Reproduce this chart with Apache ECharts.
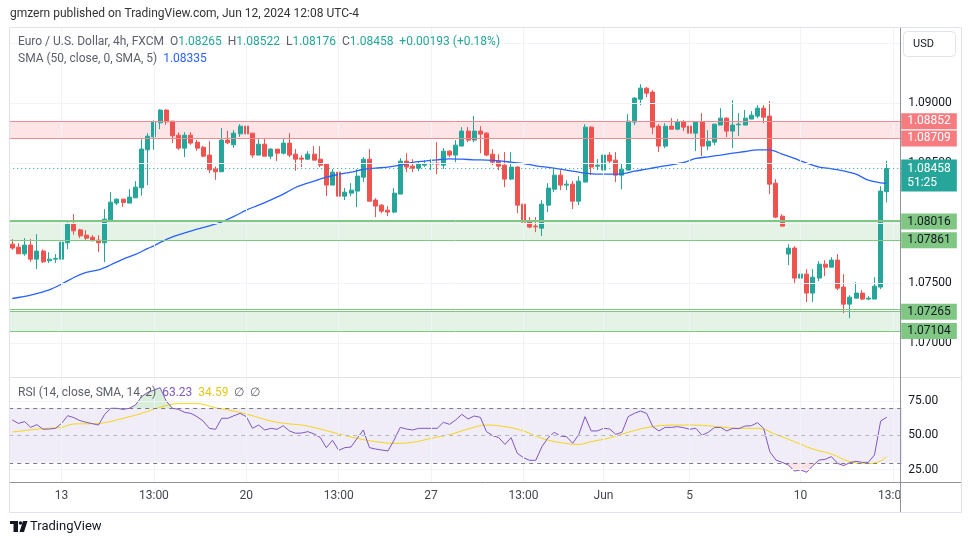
<!DOCTYPE html>
<html><head><meta charset="utf-8">
<script src="https://cdn.jsdelivr.net/npm/echarts@6/dist/echarts.min.js"></script>
<style>html,body{margin:0;padding:0;background:#fff}#c{width:970px;height:545px}</style>
</head><body><div id="c"></div>
<script>
// ---- data (EUR/USD 4h, FXCM) ----
const opens = [
1.07828,1.07803,1.07747,1.07820,1.07703,1.07770,1.07689,1.07703,1.07703,1.07839,
1.07995,1.07947,1.07903,1.07886,1.07861,1.07839,1.08031,1.08170,1.08203,1.08170,
1.08214,1.08297,1.08614,1.08722,1.08839,1.08945,1.08853,1.08736,1.08628,1.08736,
1.08678,1.08636,1.08570,1.08453,1.08431,1.08695,1.08656,1.08747,1.08811,1.08753,
1.08570,1.08661,1.08561,1.08620,1.08586,1.08670,1.08578,1.08545,1.08536,1.08578,
1.08536,1.08495,1.08320,1.08428,1.08228,1.08253,1.08270,1.08386,1.08536,1.08195,
1.08153,1.08111,1.08095,1.08245,1.08520,1.08478,1.08461,1.08486,1.08495,1.08503,
1.08486,1.08603,1.08570,1.08645,1.08770,1.08695,1.08770,1.08753,1.08578,1.08520,
1.08486,1.08370,1.08470,1.08161,1.08020,1.07978,1.07961,1.08153,1.08286,1.08403,
1.08320,1.08328,1.08186,1.08345,1.08803,1.08478,1.08445,1.08570,1.08528,1.08403,
1.08445,1.08845,1.09036,1.09128,1.09095,1.08811,1.08645,1.08811,1.08786,1.08845,
1.08811,1.08753,1.08845,1.08645,1.08678,1.08820,1.08878,1.08770,1.08822,1.08820,
1.08870,1.08895,1.08961,1.08895,1.08336,1.08061,1.07745,1.07795,1.07545,1.07578,
1.07420,1.07545,1.07661,1.07636,1.07695,1.07470,1.07328,1.07378,1.07420,1.07370,
1.07370,1.07470,1.08265];
const highs = [
1.07870,1.07836,1.07878,1.07870,1.07911,1.07784,1.07761,1.07745,1.07870,1.08009,
1.08078,1.07956,1.07945,1.07903,1.07903,1.08120,1.08261,1.08209,1.08205,1.08286,
1.08353,1.08703,1.08753,1.08859,1.08953,1.08953,1.08853,1.08759,1.08761,1.08761,
1.08697,1.08647,1.08686,1.08475,1.08795,1.08772,1.08778,1.08828,1.08856,1.08753,
1.08709,1.08711,1.08628,1.08620,1.08703,1.08753,1.08620,1.08570,1.08603,1.08645,
1.08645,1.08503,1.08453,1.08478,1.08295,1.08336,1.08453,1.08553,1.08620,1.08211,
1.08161,1.08145,1.08295,1.08545,1.08586,1.08536,1.08520,1.08528,1.08536,1.08678,
1.08628,1.08611,1.08695,1.08803,1.08803,1.08895,1.08811,1.08761,1.08620,1.08578,
1.08595,1.08595,1.08478,1.08170,1.08053,1.08053,1.08195,1.08336,1.08461,1.08445,
1.08361,1.08353,1.08395,1.08828,1.08811,1.08536,1.08578,1.08595,1.08595,1.08503,
1.08911,1.09053,1.09161,1.09136,1.09111,1.08828,1.08836,1.08878,1.08870,1.08861,
1.08828,1.08845,1.08920,1.08778,1.08828,1.08961,1.08886,1.09028,1.08920,1.08945,
1.08936,1.08986,1.08986,1.09020,1.08370,1.08078,1.07828,1.07811,1.07695,1.07620,
1.07620,1.07686,1.07695,1.07720,1.07745,1.07578,1.07403,1.07511,1.07445,1.07395,
1.07553,1.08311,1.08522];
const lows = [
1.07781,1.07747,1.07731,1.07681,1.07620,1.07670,1.07670,1.07670,1.07703,1.07786,
1.07906,1.07878,1.07864,1.07853,1.07761,1.07678,1.08022,1.08153,1.08139,1.08170,
1.08214,1.08231,1.08320,1.08614,1.08786,1.08822,1.08670,1.08614,1.08553,1.08656,
1.08606,1.08553,1.08420,1.08364,1.08431,1.08661,1.08631,1.08722,1.08709,1.08547,
1.08570,1.08561,1.08536,1.08520,1.08575,1.08553,1.08439,1.08470,1.08528,1.08528,
1.08470,1.08228,1.08320,1.08186,1.08195,1.08228,1.08136,1.08345,1.08186,1.08053,
1.08086,1.08061,1.08086,1.08245,1.08428,1.08428,1.08436,1.08470,1.08445,1.08411,
1.08453,1.08553,1.08511,1.08645,1.08678,1.08678,1.08586,1.08561,1.08486,1.08445,
1.08303,1.08361,1.08086,1.08011,1.07961,1.07928,1.07895,1.08095,1.08261,1.08278,
1.08278,1.08120,1.08153,1.08345,1.08403,1.08445,1.08445,1.08503,1.08345,1.08286,
1.08445,1.08820,1.08986,1.09053,1.08745,1.08595,1.08628,1.08786,1.08778,1.08770,
1.08703,1.08603,1.08561,1.08611,1.08653,1.08820,1.08720,1.08628,1.08728,1.08820,
1.08870,1.08878,1.08836,1.08245,1.08045,1.07978,1.07653,1.07495,1.07495,1.07345,
1.07345,1.07520,1.07561,1.07636,1.07445,1.07253,1.07211,1.07378,1.07361,1.07361,
1.07370,1.07453,1.08176];
const closes = [
1.07795,1.07747,1.07820,1.07703,1.07770,1.07681,1.07703,1.07709,1.07845,1.07995,
1.07939,1.07897,1.07878,1.07856,1.07839,1.08036,1.08178,1.08203,1.08175,1.08220,
1.08303,1.08620,1.08728,1.08845,1.08945,1.08847,1.08731,1.08628,1.08736,1.08670,
1.08628,1.08561,1.08447,1.08431,1.08695,1.08672,1.08753,1.08811,1.08747,1.08570,
1.08661,1.08561,1.08620,1.08586,1.08670,1.08570,1.08536,1.08536,1.08578,1.08528,
1.08486,1.08320,1.08428,1.08228,1.08261,1.08278,1.08395,1.08536,1.08186,1.08145,
1.08103,1.08095,1.08253,1.08520,1.08470,1.08461,1.08495,1.08495,1.08503,1.08495,
1.08603,1.08570,1.08653,1.08770,1.08695,1.08770,1.08745,1.08570,1.08511,1.08478,
1.08370,1.08470,1.08153,1.08011,1.07970,1.07972,1.08161,1.08295,1.08403,1.08320,
1.08328,1.08186,1.08353,1.08803,1.08470,1.08486,1.08570,1.08520,1.08403,1.08453,
1.08853,1.09045,1.09128,1.09086,1.08803,1.08645,1.08811,1.08786,1.08845,1.08803,
1.08753,1.08845,1.08645,1.08686,1.08828,1.08878,1.08770,1.08820,1.08828,1.08878,
1.08903,1.08961,1.08886,1.08328,1.08053,1.07978,1.07795,1.07545,1.07578,1.07420,
1.07553,1.07661,1.07636,1.07695,1.07461,1.07328,1.07386,1.07420,1.07370,1.07378,
1.07478,1.08270,1.08458];

// SMA (50, close, 0, SMA, 5) read at sampled candles
const smaIdx = [0,3,6,8,10,12,14,16,18,20,22,23,24,26,28,30,32,34,36,38,40,42,44,46,47,49,51,53,55,57,59,61,63,65,67,69,71,73,75,77,79,81,83,85,87,89,91,93,95,97,99,101,103,105,107,109,111,113,115,117,119,121,123,125,127,129,131,133,135,137,139,141,142];
const smaVals = [1.07375,1.07403,1.07447,1.07495,1.07550,1.07592,1.07614,1.07656,1.07703,1.07742,1.07792,1.07814,1.07842,1.07889,1.07922,1.07953,1.07981,1.08014,1.08059,1.08111,1.08153,1.08197,1.08245,1.08300,1.08320,1.08353,1.08386,1.08409,1.08428,1.08450,1.08461,1.08470,1.08486,1.08509,1.08520,1.08531,1.08539,1.08536,1.08531,1.08528,1.08522,1.08511,1.08500,1.08481,1.08467,1.08453,1.08436,1.08420,1.08411,1.08411,1.08414,1.08436,1.08453,1.08472,1.08489,1.08509,1.08542,1.08556,1.08570,1.08586,1.08600,1.08614,1.08614,1.08578,1.08542,1.08503,1.08470,1.08456,1.08439,1.08411,1.08361,1.08339,1.08335];

// RSI (14)
const rsi = [61.2,58.7,60.0,55.8,57.8,54.4,54.6,55.1,58.7,64.3,62.9,60.7,59.5,58.5,57.5,65.3,69.7,69.7,68.9,69.7,
72.1,78.2,81.3,83.0,84.7,75.0,69.7,68.9,66.7,66.0,63.6,60.4,55.1,54.4,62.4,62.4,64.3,66.0,63.6,55.1,
57.5,53.9,55.1,54.4,57.0,53.2,51.5,51.7,52.7,51.0,48.5,41.0,46.4,39.1,41.0,41.5,47.8,53.9,41.0,40.0,
39.3,38.6,46.6,55.8,54.6,53.9,55.1,55.1,55.1,55.1,59.5,58.0,61.2,65.3,61.9,64.1,63.1,52.7,49.8,48.3,
43.4,48.3,36.9,33.7,31.8,31.8,41.7,48.3,52.2,49.5,49.0,44.2,50.7,63.6,53.2,53.2,55.1,54.6,50.7,52.2,
63.6,66.0,67.7,66.0,56.3,53.2,55.8,55.8,56.3,55.6,54.4,55.1,50.0,52.2,55.6,55.8,53.2,55.1,54.9,56.8,
57.0,59.2,55.1,38.1,32.0,30.3,28.4,24.0,24.8,23.1,27.9,32.0,32.5,34.5,29.6,27.9,30.1,31.1,30.3,30.3,
35.7,60.4,63.23];
// RSI-based MA (SMA 14) read at sampled candles
const rsiMaIdx = [0,5,8,10,13,15,18,21,24,27,30,33,36,39,42,45,47,50,53,56,59,62,65,68,71,74,77,80,83,86,89,92,94,97,100,103,106,109,112,115,118,121,124,127,130,133,136,139,141,142];
const rsiMaVals = [52.4,54.9,55.8,58.3,58.5,59.2,62.4,66.0,70.4,73.1,73.1,70.1,67.7,64.3,60.4,58.3,57.5,54.6,51.0,47.8,45.4,44.2,44.9,47.8,50.5,54.6,57.5,56.3,53.2,47.8,44.7,43.4,45.4,48.1,52.2,55.6,57.3,57.5,57.3,56.1,55.1,55.1,50.7,45.4,40.0,36.4,30.8,29.4,31.3,34.59];

// time axis ticks (candle index -> label)
const tickIndex = [8,23,38,53,68,83,96,110,128,143];
const tickLabels = ['13','13:00','20','13:00','27','13:00','Jun','5','10','13:00'];

// price scale
const priceGrid = [1.07,1.075,1.08,1.085,1.09,1.095];
const priceGridLabels = ['1.07000','1.07500','1.08000','1.08500','1.09000',''];
const resistanceBand = [1.08709, 1.08852];
const supportBands = [[1.07861, 1.08016], [1.07104, 1.07265]];
const extraLines = [1.08030, 1.07285];
const lastPrice = 1.08458;
const countdown = '51:25';
const rsiGuides = [30, 50, 70];
const rsiTicks = [25, 50, 75];

// ---- chart ----
const F = 'Roboto, "Liberation Sans", sans-serif';
const GRIDC = '#f0f3fa';
const UP = '#26a69a', DOWN = '#ef5350';
const NCAT = 145;
const cats = Array.from({length: NCAT}, (_, i) => String(i));
const candles = opens.map((o, i) => [o, closes[i], lows[i], highs[i]]);
const sma = Array(NCAT).fill(null); smaIdx.forEach((k, j) => sma[k] = smaVals[j]);
const rsiMa = Array(NCAT).fill(null); rsiMaIdx.forEach((k, j) => rsiMa[k] = rsiMaVals[j]);
const nulls = Array(NCAT).fill(null);

const vLines = tickIndex.map(k => ({xAxis: String(k), label: {show: false}}));
const hGrid = priceGrid.map((p, j) => ({yAxis: p, label: {show: !!priceGridLabels[j], formatter: priceGridLabels[j] || ' '}}));

function lvl(p, bg, fg, line) {
  return {yAxis: p, lineStyle: {color: line, width: 1, type: 'solid'},
    label: {show: true, position: 'end', distance: -1, formatter: p.toFixed(5), backgroundColor: bg, color: fg,
      fontFamily: F, fontSize: 12, padding: [2, 6, 1, 6], lineHeight: 13}};
}
const RLINE = '#f08c8f', RBG = '#f77c80', GLINE = '#81c784', GBG = '#81c784';
const levelLines = [
  ...extraLines.map(p => ({yAxis: p, lineStyle: {color: GLINE, width: 1, type: 'solid'}, label: {show: false}})),
  lvl(resistanceBand[1], RBG, '#ffffff', RLINE),
  lvl(resistanceBand[0], RBG, '#ffffff', RLINE),
  lvl(supportBands[0][1], GBG, '#131722', GLINE),
  lvl(supportBands[0][0], GBG, '#131722', GLINE),
  lvl(supportBands[1][1], GBG, '#131722', GLINE),
  lvl(supportBands[1][0], GBG, '#131722', GLINE),
  {yAxis: lastPrice, lineStyle: {color: UP, width: 1, type: [1, 3]},
    label: {show: true, position: 'end', distance: -1, formatter: lastPrice.toFixed(5) + '\n' + countdown,
      backgroundColor: UP, color: '#ffffff', fontFamily: F, fontSize: 12, lineHeight: 14, padding: [2, 6, 2, 6], offset: [0, 7]}}
];

const option = {
  animation: false,
  backgroundColor: '#ffffff',
  textStyle: {fontFamily: F},
  grid: [
    {left: 9.2, top: 27, width: 893, height: 350},
    {left: 9.2, top: 377, width: 893, height: 105}
  ],
  xAxis: [
    {type: 'category', gridIndex: 0, data: cats, boundaryGap: true, axisLine: {show: false}, axisTick: {show: false}, axisLabel: {show: false}, splitLine: {show: false}},
    {type: 'category', gridIndex: 1, data: cats, boundaryGap: true, axisLine: {show: false}, axisTick: {show: false}, splitLine: {show: false},
      axisLabel: {show: true, interval: (i) => tickIndex.includes(i), formatter: (v, i) => { const j = tickIndex.indexOf(Number(v)); return j >= 0 ? tickLabels[j] : ''; },
        color: '#434651', fontSize: 12, fontFamily: F, margin: 8}}
  ],
  yAxis: [
    {type: 'value', gridIndex: 0, min: 1.067208, max: 1.096375, show: false, scale: true},
    {type: 'value', gridIndex: 1, min: 16, max: 92.5, show: false}
  ],
  series: [
    {name: 'grid', type: 'line', xAxisIndex: 0, yAxisIndex: 0, data: nulls, symbol: 'none', silent: true, z: 1,
      markLine: {silent: true, precision: 6, symbol: ['none', 'none'], lineStyle: {color: GRIDC, width: 1, type: 'solid'},
        label: {show: true, position: 'end', distance: 6, color: '#131722', fontSize: 12, fontFamily: F},
        data: [...hGrid, ...vLines]},
      markArea: {silent: true, label: {show: false},
        data: [
          [{yAxis: resistanceBand[0], itemStyle: {color: 'rgba(242,54,69,0.13)'}}, {yAxis: resistanceBand[1]}],
          [{yAxis: supportBands[0][0], itemStyle: {color: 'rgba(76,175,80,0.15)'}}, {yAxis: supportBands[0][1]}],
          [{yAxis: supportBands[1][0], itemStyle: {color: 'rgba(76,175,80,0.15)'}}, {yAxis: supportBands[1][1]}]
        ]}},
    {name: 'EURUSD', type: 'candlestick', xAxisIndex: 0, yAxisIndex: 0, data: candles, barWidth: 4.5, z: 3,
      itemStyle: {color: UP, color0: DOWN, borderColor: UP, borderColor0: DOWN, borderWidth: 1},
      markLine: {silent: true, precision: 6, symbol: ['none', 'none'], data: levelLines}},
    {name: 'SMA', type: 'line', xAxisIndex: 0, yAxisIndex: 0, data: sma, connectNulls: true, smooth: 0.3, symbol: 'none',
      lineStyle: {color: '#2962ff', width: 1.3}, z: 4, silent: true},
    {name: 'rsiGrid', type: 'line', xAxisIndex: 1, yAxisIndex: 1, data: nulls, symbol: 'none', silent: true, z: 1,
      markArea: {silent: true, data: [[{yAxis: rsiGuides[0], itemStyle: {color: 'rgba(126,87,194,0.11)'}}, {yAxis: rsiGuides[2]}]]},
      markLine: {silent: true, precision: 4, symbol: ['none', 'none'],
        label: {show: true, position: 'end', distance: 6, color: '#131722', fontSize: 12, fontFamily: F},
        data: [
          ...rsiTicks.map(v => ({yAxis: v, lineStyle: {color: GRIDC, width: 1, type: 'solid'}, label: {formatter: v.toFixed(2)}})),
          ...vLines.map(d => Object.assign({lineStyle: {color: GRIDC, width: 1, type: 'solid'}}, d)),
          {yAxis: rsiGuides[2], lineStyle: {color: '#787b86', width: 1, type: [4, 4]}, label: {show: false}},
          {yAxis: rsiGuides[1], lineStyle: {color: 'rgba(120,123,134,0.5)', width: 1, type: [4, 4]}, label: {show: false}},
          {yAxis: rsiGuides[0], lineStyle: {color: '#787b86', width: 1, type: [4, 4]}, label: {show: false}}
        ]}},
    {name: 'obBase', type: 'line', xAxisIndex: 1, yAxisIndex: 1, stack: 'ob', data: rsi.map(() => rsiGuides[2]), symbol: 'none', silent: true, lineStyle: {width: 0, opacity: 0}, z: 2},
    {name: 'obFill', type: 'line', xAxisIndex: 1, yAxisIndex: 1, stack: 'ob', data: rsi.map(v => Math.max(v - rsiGuides[2], 0)), symbol: 'none', silent: true, lineStyle: {width: 0, opacity: 0},
      areaStyle: {color: 'rgba(76,175,80,0.3)'}, z: 2},
    {name: 'osBase', type: 'line', xAxisIndex: 1, yAxisIndex: 1, stack: 'os', data: rsi.map(v => Math.min(v, rsiGuides[0])), symbol: 'none', silent: true, lineStyle: {width: 0, opacity: 0}, z: 2},
    {name: 'osFill', type: 'line', xAxisIndex: 1, yAxisIndex: 1, stack: 'os', data: rsi.map(v => rsiGuides[0] - Math.min(v, rsiGuides[0])), symbol: 'none', silent: true, lineStyle: {width: 0, opacity: 0},
      areaStyle: {color: 'rgba(242,54,69,0.2)'}, z: 2},
    {name: 'RSI', type: 'line', xAxisIndex: 1, yAxisIndex: 1, data: rsi, symbol: 'none', lineStyle: {color: '#7e57c2', width: 1}, z: 4, silent: true},
    {name: 'RSI MA', type: 'line', xAxisIndex: 1, yAxisIndex: 1, data: rsiMa, connectNulls: true, smooth: 0.4, symbol: 'none', lineStyle: {color: '#f5d516', width: 1}, z: 3, silent: true}
  ],
  graphic: {elements: [
    {type: 'rect', z: 99, shape: {x: 901, y: 483, width: 60, height: 29}, style: {fill: '#ffffff'}},
    {type: 'rect', z: 100, shape: {x: 9.5, y: 27.5, width: 952, height: 485}, style: {fill: null, stroke: '#e0e3eb', lineWidth: 1}},
    {type: 'line', z: 100, shape: {x1: 10, y1: 377.5, x2: 961, y2: 377.5}, style: {stroke: '#e0e3eb', lineWidth: 1}},
    {type: 'line', z: 100, shape: {x1: 10, y1: 482.5, x2: 961, y2: 482.5}, style: {stroke: '#8f929b', lineWidth: 1}},
    {type: 'line', z: 100, shape: {x1: 900.5, y1: 28, x2: 900.5, y2: 512}, style: {stroke: '#8f929b', lineWidth: 1}},
    {type: 'rect', z: 100, shape: {x: 903.5, y: 31.5, width: 52, height: 25, r: 4}, style: {fill: '#ffffff', stroke: '#e0e3eb', lineWidth: 1}},
    {type: 'text', z: 101, style: {x: 913, y: 44.5, text: 'USD', fill: '#131722', font: '11px ' + F, verticalAlign: 'middle'}},
    {type: 'text', z: 101, style: {x: 10, y: 14, text: 'gmzern published on TradingView.com, Jun 12, 2024 12:08 UTC-4', fill: '#333333', font: '12px ' + F, verticalAlign: 'middle'}},
    {type: 'text', z: 101, style: {x: 18, y: 42, verticalAlign: 'middle', font: '12px ' + F,
      text: '{g|Euro / U.S. Dollar, 4h, FXCM  O}{v|1.08265}{g|  H}{v|1.08522}{g|  L}{v|1.08176}{g|  C}{v|1.08458}{v|  +0.00193 (+0.18%)}',
      rich: {g: {fill: '#5d606b', font: '12px ' + F}, v: {fill: '#26a69a', font: '12px ' + F}}}},
    {type: 'text', z: 101, style: {x: 18, y: 59, verticalAlign: 'middle', font: '12px ' + F,
      text: '{g|SMA (50, close, 0, SMA, 5)  }{b|1.08335}',
      rich: {g: {fill: '#5d606b', font: '12px ' + F}, b: {fill: '#2962ff', font: '12px ' + F}}}},
    {type: 'text', z: 101, style: {x: 18, y: 393, verticalAlign: 'middle', font: '12px ' + F,
      text: '{g|RSI (14, close, SMA, 14, 2)  }{p|63.23}{g|  }{y|34.59}{g|  \u2205  \u2205}',
      rich: {g: {fill: '#5d606b', font: '12px ' + F}, p: {fill: '#7e57c2', font: '12px ' + F}, y: {fill: '#e6c619', font: '12px ' + F}}}},
    {type: 'rect', z: 101, shape: {x: 10, y: 521, width: 8, height: 3}, style: {fill: '#131722'}},
    {type: 'rect', z: 101, shape: {x: 13.5, y: 521, width: 4.5, height: 11}, style: {fill: '#131722'}},
    {type: 'circle', z: 101, shape: {cx: 20.5, cy: 523, r: 1.8}, style: {fill: '#131722'}},
    {type: 'polygon', z: 101, shape: {points: [[23, 521], [27.5, 521], [24, 532], [19.5, 532]]}, style: {fill: '#131722'}},
    {type: 'text', z: 101, style: {x: 30, y: 527, text: 'TradingView', fill: '#131722', font: '13px ' + F, verticalAlign: 'middle'}}
  ]}
};
const chart = echarts.init(document.getElementById('c'), null, {renderer: 'canvas', width: 970, height: 545});
chart.setOption(option);
</script>
</body></html>
